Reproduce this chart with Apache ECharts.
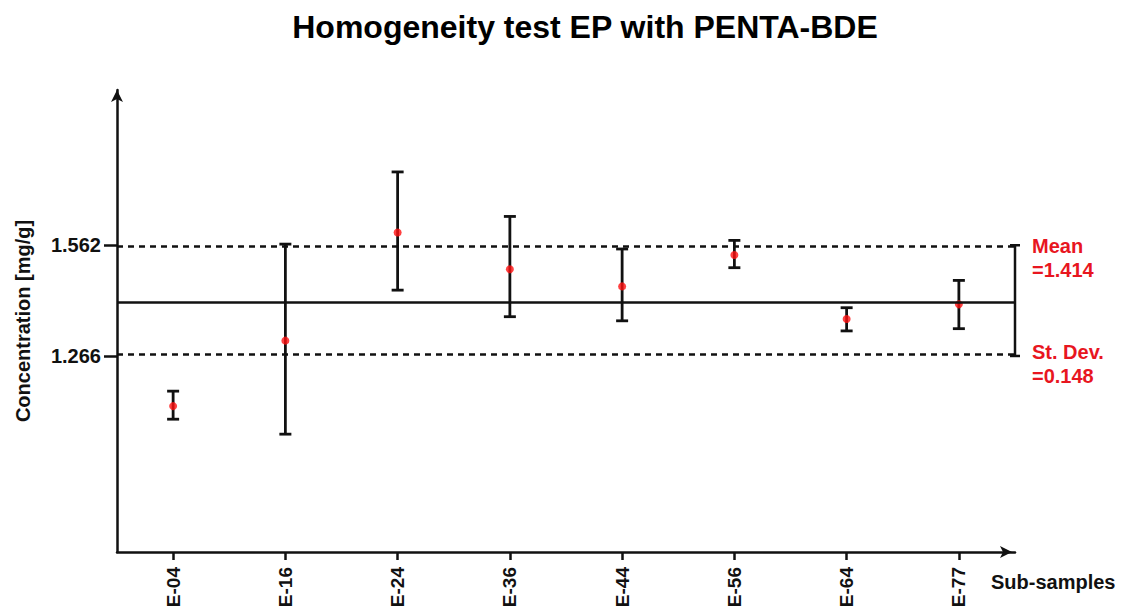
<!DOCTYPE html>
<html>
<head>
<meta charset="utf-8">
<script src="https://cdn.jsdelivr.net/npm/echarts@6/dist/echarts.min.js"></script>
<style>html,body{margin:0;padding:0;background:#fff;}#chart{width:1126px;height:614px;}</style>
</head>
<body>
<div id="chart"></div>
<script>
const categories = ['E-04', 'E-16', 'E-24', 'E-36', 'E-44', 'E-56', 'E-64', 'E-77'];
const values  = [1.132, 1.307, 1.596, 1.498, 1.452, 1.536, 1.365, 1.404];
const errLow  = [1.097, 1.057, 1.442, 1.371, 1.360, 1.502, 1.333, 1.339];
const errHigh = [1.172, 1.565, 1.758, 1.639, 1.552, 1.575, 1.395, 1.468];
const meanValue = 1.414;
const stDev = 0.148;
const yTickValues = [1.266, 1.562];
const yTickLabels = ['1.266', '1.562'];

const FONT = "'Liberation Sans', Arial, Helvetica, sans-serif";
const INK = '#111111';
const RED = '#e8161f';

const errData = categories.map((c, i) => [i, errLow[i], errHigh[i]]);
const pointData = categories.map((c, i) => [i, values[i]]);

const chart = echarts.init(document.getElementById('chart'), null, {renderer: 'svg'});

chart.setOption({
  backgroundColor: '#ffffff',
  animation: false,
  title: {
    text: 'Homogeneity test EP with PENTA-BDE',
    left: 580,
    top: 6,
    textAlign: 'center',
    textStyle: {fontFamily: FONT, fontWeight: 'bold', fontSize: 32, color: '#000'}
  },
  grid: {left: 117, right: 111, top: 90, bottom: 62, containLabel: false},
  xAxis: {
    type: 'category',
    data: categories,
    boundaryGap: true,
    name: 'Sub-samples',
    nameLocation: 'end',
    nameGap: -24,
    nameTextStyle: {fontFamily: FONT, fontWeight: 'bold', fontSize: 20, color: INK, verticalAlign: 'top', padding: [20, 0, 0, 0]},
    axisLine: {show: true, lineStyle: {color: INK, width: 2.5}, symbol: ['none', 'arrow'], symbolSize: [9, 12], symbolOffset: [0, -3]},
    axisTick: {show: true, alignWithLabel: true, length: 8, lineStyle: {color: INK, width: 2.5}},
    axisLabel: {rotate: 90, margin: 15, fontFamily: FONT, fontWeight: 'bold', fontSize: 19, color: INK},
    splitLine: {show: false}
  },
  yAxis: {
    type: 'value',
    min: 0.742,
    max: 1.977,
    name: 'Concentration [mg/g]',
    nameLocation: 'middle',
    nameGap: 84,
    nameTextStyle: {fontFamily: FONT, fontWeight: 'bold', fontSize: 20, color: INK},
    axisLine: {show: true, lineStyle: {color: INK, width: 2.5}, symbol: ['none', 'arrow'], symbolSize: [9, 12], symbolOffset: [0, 0]},
    axisTick: {show: true, length: 13, customValues: yTickValues, lineStyle: {color: INK, width: 2.5}},
    axisLabel: {
      show: true, margin: 16, customValues: yTickValues,
      formatter: v => yTickLabels[yTickValues.indexOf(v)] !== undefined ? yTickLabels[yTickValues.indexOf(v)] : '',
      fontFamily: FONT, fontWeight: 'bold', fontSize: 20, color: INK
    },
    splitLine: {show: false}
  },
  series: [
    {
      type: 'custom',
      name: 'errors',
      data: errData,
      z: 3,
      renderItem: function (params, api) {
        const x = api.value(0);
        const lo = api.coord([x, api.value(1)]);
        const hi = api.coord([x, api.value(2)]);
        const hw = 6;
        const st = {stroke: INK, lineWidth: 2.8};
        return {
          type: 'group',
          children: [
            {type: 'line', shape: {x1: hi[0], y1: hi[1], x2: lo[0], y2: lo[1]}, style: st},
            {type: 'line', shape: {x1: hi[0] - hw, y1: hi[1], x2: hi[0] + hw, y2: hi[1]}, style: st},
            {type: 'line', shape: {x1: lo[0] - hw, y1: lo[1], x2: lo[0] + hw, y2: lo[1]}, style: st}
          ]
        };
      },
      markLine: {
        silent: true,
        symbol: ['none', 'none'],
        label: {show: false},
        data: [
          {yAxis: meanValue, lineStyle: {type: 'solid', color: INK, width: 2.5}},
          {yAxis: +(meanValue + stDev).toFixed(3), lineStyle: {type: [6, 5], color: INK, width: 2.5}},
          {yAxis: +(meanValue - stDev).toFixed(3), lineStyle: {type: [6, 5], color: INK, width: 2.5}}
        ]
      }
    },
    {
      type: 'scatter',
      name: 'values',
      data: pointData,
      symbol: 'circle',
      symbolSize: 8,
      z: 4,
      itemStyle: {color: '#ff1010'}
    },
    {
      type: 'custom',
      name: 'stats',
      data: [[meanValue, stDev]],
      z: 5,
      renderItem: function (params, api) {
        const cs = params.coordSys;
        const xr = cs.x + cs.width;
        const m = api.value(0), s = api.value(1);
        const yTop = api.coord([0, m + s])[1];
        const yBot = api.coord([0, m - s])[1];
        const st = {stroke: INK, lineWidth: 2.5};
        const font = "bold 20px " + FONT;
        const tx = xr + 17;
        return {
          type: 'group',
          children: [
            {type: 'line', shape: {x1: xr, y1: yTop, x2: xr, y2: yBot}, style: st},
            {type: 'line', shape: {x1: xr - 5, y1: yTop, x2: xr + 5, y2: yTop}, style: st},
            {type: 'line', shape: {x1: xr - 5, y1: yBot, x2: xr + 5, y2: yBot}, style: st},
            {type: 'text', style: {text: 'Mean', x: tx, y: yTop + 11, fill: RED, font: font, verticalAlign: 'bottom'}},
            {type: 'text', style: {text: '=' + m.toFixed(3), x: tx, y: yTop + 35, fill: RED, font: font, verticalAlign: 'bottom'}},
            {type: 'text', style: {text: 'St. Dev.', x: tx, y: yBot + 6, fill: RED, font: font, verticalAlign: 'bottom'}},
            {type: 'text', style: {text: '=' + s.toFixed(3), x: tx, y: yBot + 30, fill: RED, font: font, verticalAlign: 'bottom'}}
          ]
        };
      }
    }
  ]
});
</script>
</body>
</html>
